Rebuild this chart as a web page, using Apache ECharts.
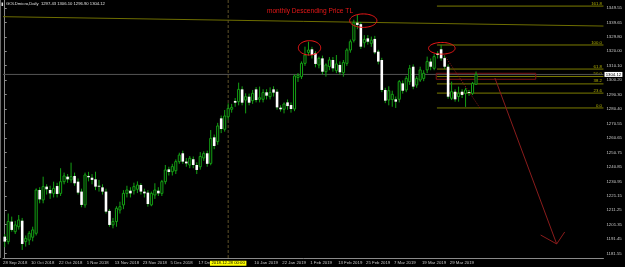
<!DOCTYPE html>
<html><head><meta charset="utf-8">
<script src="https://cdn.jsdelivr.net/npm/echarts@6/dist/echarts.min.js"></script>
<style>html,body{margin:0;padding:0;background:#000}#c{width:625px;height:267px}</style>
</head><body><div id="c"></div>
<script>
// ---- data ----
const dates = [
'2018-09-28',
'2018-10-01','2018-10-02','2018-10-03','2018-10-04','2018-10-05','2018-10-08','2018-10-09','2018-10-10','2018-10-11','2018-10-12','2018-10-15','2018-10-16','2018-10-17','2018-10-18','2018-10-19','2018-10-22','2018-10-23','2018-10-24','2018-10-25','2018-10-26','2018-10-29','2018-10-30','2018-10-31',
'2018-11-01','2018-11-02','2018-11-05','2018-11-06','2018-11-07','2018-11-08','2018-11-09','2018-11-12','2018-11-13','2018-11-14','2018-11-15','2018-11-16','2018-11-19','2018-11-20','2018-11-21','2018-11-22','2018-11-23','2018-11-26','2018-11-27','2018-11-28','2018-11-29','2018-11-30',
'2018-12-03','2018-12-04','2018-12-05','2018-12-06','2018-12-07','2018-12-10','2018-12-11','2018-12-12','2018-12-13','2018-12-14','2018-12-17','2018-12-18','2018-12-19','2018-12-20','2018-12-21','2018-12-24','2018-12-26','2018-12-27','2018-12-28','2018-12-31',
'2019-01-02','2019-01-03','2019-01-04','2019-01-07','2019-01-08','2019-01-09','2019-01-10','2019-01-11','2019-01-14','2019-01-15','2019-01-16','2019-01-17','2019-01-18','2019-01-21','2019-01-22','2019-01-23','2019-01-24','2019-01-25','2019-01-28','2019-01-29','2019-01-30','2019-01-31',
'2019-02-01','2019-02-04','2019-02-05','2019-02-06','2019-02-07','2019-02-08','2019-02-11','2019-02-12','2019-02-13','2019-02-14','2019-02-15','2019-02-18','2019-02-19','2019-02-20','2019-02-21','2019-02-22','2019-02-25','2019-02-26','2019-02-27','2019-02-28',
'2019-03-01','2019-03-04','2019-03-05','2019-03-06','2019-03-07','2019-03-08','2019-03-11','2019-03-12','2019-03-13','2019-03-14','2019-03-15','2019-03-18','2019-03-19','2019-03-20','2019-03-21','2019-03-22','2019-03-25','2019-03-26','2019-03-27','2019-03-28','2019-03-29',
'2019-04-01','2019-04-02','2019-04-03','2019-04-04','2019-04-05','2019-04-08','2019-04-09'
];
const open = [
1193.2,1189.8,1203.5,1196.6,1200.0,1204.1,1189.8,1190.9,1192.8,1195.5,
1225.1,1218.3,1227.4,1225.1,1222.8,1227.8,1222.8,1230.8,1234.2,1232.0,
1234.7,1230.8,1224.0,1214.9,1234.7,1233.5,1232.4,1228.0,1226.9,1224.0,
1210.8,1201.2,1203.5,1211.4,1214.9,1222.8,1224.6,1224.6,1225.6,1228.5,
1224.0,1223.3,1214.9,1221.7,1224.6,1222.8,1230.8,1239.2,1237.6,1238.3,
1244.5,1250.2,1244.5,1242.2,1246.1,1242.2,1241.0,1247.0,1250.2,1243.3,
1261.1,1258.2,1274.1,1266.6,1275.2,1280.3,1286.0,1285.5,1293.9,1286.6,
1288.9,1286.2,1293.9,1287.1,1287.1,1291.9,1288.9,1293.9,1292.3,1281.4,
1280.3,1285.0,1283.2,1280.5,1302.0,1302.6,1311.7,1319.2,1321.3,1318.6,
1310.6,1315.1,1306.0,1309.5,1314.0,1306.7,1310.6,1305.3,1311.7,1320.8,
1327.5,1339.5,1338.5,1325.8,1328.8,1325.4,1328.4,1319.7,1314.0,1293.5,
1286.6,1287.0,1287.1,1287.1,1298.0,1293.5,1299.2,1309.4,1296.9,1300.3,
1301.4,1307.2,1312.9,1308.3,1318.5,1321.3,1315.3,1309.4,1287.8,1292.3,
1289.0,1292.3,1291.2,1292.1,1291.2,1297.43];
const high = [
1195.0,1209.0,1206.9,1204.0,1208.0,1206.0,1194.0,1197.0,1200.0,1226.2,
1227.0,1234.2,1229.0,1228.0,1230.8,1230.0,1240.0,1237.0,1236.0,1243.8,
1237.0,1233.0,1226.0,1237.0,1237.5,1236.0,1237.6,1232.0,1229.0,1226.0,
1212.0,1206.0,1214.0,1217.1,1225.0,1228.0,1227.0,1230.1,1231.0,1229.7,
1226.0,1225.0,1224.0,1229.7,1227.0,1232.0,1242.2,1241.0,1243.0,1246.0,
1250.6,1252.0,1247.0,1248.3,1248.0,1244.0,1251.0,1251.5,1252.0,1266.1,
1263.0,1271.0,1276.0,1279.8,1284.4,1284.0,1288.0,1298.5,1296.0,1291.2,
1291.0,1293.5,1295.5,1295.8,1294.0,1294.0,1295.3,1296.0,1294.0,1283.0,
1285.0,1287.0,1285.0,1304.0,1305.0,1313.0,1323.1,1326.5,1323.0,1320.0,
1316.3,1317.0,1311.7,1316.0,1316.0,1317.4,1313.0,1314.0,1322.0,1328.0,
1341.5,1344.8,1340.0,1331.0,1331.0,1330.0,1330.5,1321.0,1315.5,1295.0,
1296.0,1293.0,1289.0,1300.3,1300.0,1303.0,1310.6,1311.0,1303.0,1309.4,
1307.0,1316.3,1315.0,1318.0,1320.0,1324.3,1317.0,1311.0,1299.2,1294.0,
1295.8,1294.0,1295.0,1293.5,1299.0,1306.10];
const low = [
1186.0,1188.0,1196.6,1195.0,1198.0,1184.1,1186.4,1187.5,1190.0,1194.0,
1216.0,1216.0,1222.0,1219.0,1220.0,1220.0,1221.0,1229.0,1230.0,1230.0,
1228.0,1222.0,1213.3,1213.0,1231.0,1229.0,1225.0,1224.0,1222.0,1209.0,
1200.0,1198.9,1200.0,1209.0,1212.0,1220.0,1220.0,1222.0,1223.0,1222.0,
1220.0,1213.7,1214.0,1219.0,1221.0,1221.0,1229.0,1235.0,1235.0,1236.0,
1243.0,1243.0,1241.0,1240.0,1240.0,1236.0,1239.0,1245.0,1241.0,1242.0,
1253.0,1256.0,1264.0,1265.0,1273.0,1278.0,1282.0,1283.0,1283.0,1277.5,
1283.0,1284.0,1285.0,1285.0,1285.0,1287.0,1287.0,1289.0,1280.0,1278.7,
1277.5,1280.0,1278.0,1279.0,1299.0,1301.0,1310.0,1317.0,1315.0,1309.0,
1308.3,1304.0,1302.6,1307.0,1306.0,1305.0,1304.0,1302.6,1310.0,1319.0,
1326.0,1335.0,1321.5,1322.5,1324.5,1323.0,1318.0,1311.0,1292.0,1284.5,
1283.0,1282.0,1281.2,1285.0,1291.0,1292.0,1297.0,1294.0,1295.0,1299.0,
1299.5,1305.0,1307.0,1307.0,1315.0,1313.5,1308.0,1287.5,1286.6,1285.5,
1285.5,1288.0,1281.9,1289.5,1290.0,1296.90];
const close = [
1189.8,1203.5,1197.8,1201.2,1204.6,1188.2,1192.0,1195.5,1197.8,1225.1,
1218.7,1227.4,1225.6,1222.8,1226.2,1222.4,1230.8,1234.7,1232.4,1234.2,
1229.7,1223.3,1214.9,1235.4,1233.8,1232.0,1227.4,1227.4,1224.0,1210.3,
1201.2,1203.5,1212.6,1213.7,1222.8,1225.1,1222.8,1227.4,1228.5,1224.0,
1222.8,1215.5,1222.8,1225.1,1222.8,1230.8,1238.8,1237.4,1241.1,1244.5,
1249.0,1244.5,1243.3,1246.8,1242.2,1238.8,1248.0,1250.0,1243.0,1260.4,
1255.2,1268.9,1266.8,1275.7,1280.9,1281.6,1284.8,1293.9,1284.8,1288.9,
1284.8,1291.2,1286.6,1288.2,1291.7,1289.6,1291.7,1291.7,1281.6,1280.3,
1283.9,1282.5,1280.5,1303.1,1303.5,1311.7,1317.4,1320.8,1317.4,1311.3,
1315.1,1306.0,1310.6,1314.0,1308.3,1311.3,1305.6,1312.2,1320.8,1326.5,
1339.5,1337.9,1323.1,1328.1,1326.5,1327.6,1319.2,1312.9,1293.5,1286.2,
1293.0,1290.5,1285.5,1299.2,1293.0,1301.4,1308.3,1295.8,1301.4,1307.2,
1304.9,1312.9,1309.4,1316.3,1317.4,1315.1,1309.4,1288.9,1292.3,1287.1,
1291.2,1290.1,1293.5,1291.7,1298.0,1304.12];
const priceTicks = [1181.55,1191.45,1201.35,1211.25,1221.15,1230.95,1240.85,1250.75,1260.65,1270.55,1280.40,1290.30,1300.20,1310.10,1320.00,1329.80,1339.65,1349.55];
const dateTickIdx = [0,8,16,24,32,40,48,56,72,80,88,96,104,112,120,128];
const crosshairIdx = 64;
// annotations (bar index, price)
const trendLine = [[-0.5,1343.6],[171.5,1337.2]];
const fibLow = 1281.2, fibHigh = 1324.25, fibStartIdx = 123.8;
const fibLevels = [0,23.6,38.2,50.0,61.8,100.0,161.8];
const zoneBox = [123.6,1304.9,152.1,1300.8];
const dotLine = [[125.9,1317.4],[136.1,1281.2]];
const arrowLine = [[140.4,1301.7],[158.1,1188.2]];
const arrowWings = [[153.5,1194.3],[160.4,1196.4]];
const ellipses = [[87.3,1322.3,3.2,4.9],[102.7,1340.9,3.9,4.6],[125.2,1322.0,3.8,4.0]];
const noteText = ['monthly Descending Price TL', 75.1, 1347.2];
const symbolName = 'GOLDmicro,Daily';

// ---- chart ----
const FONT = 'Liberation Sans';
const GREEN = '#14a014';
const SMALL = 4.3;
const MON = ['Jan','Feb','Mar','Apr','May','Jun','Jul','Aug','Sep','Oct','Nov','Dec'];
function fmtDate(s){const p=s.split('-');return (+p[2])+' '+MON[+p[1]-1]+' '+p[0];}
const n = dates.length;
const candleData = dates.map((d,i)=>[i,open[i],close[i],low[i],high[i]]);
const last = n-1;
const lastPrice = close[last];
const LOFF = 0.5;

const chart = echarts.init(document.getElementById('c'));
function lineEl(a,b,stroke,w,dash){return {type:'line',shape:{x1:a[0],y1:a[1],x2:b[0],y2:b[1]},style:{stroke:stroke,lineWidth:w||1,lineDash:dash||null}};}

chart.setOption({
  backgroundColor:'#000',
  animation:false,
  grid:{left:1.25,right:21,top:0,bottom:9},
  xAxis:{type:'value',min:-0.5,max:171.5,
    axisLine:{show:true,lineStyle:{color:'#8a8a8a',width:1}},
    axisTick:{show:false},splitLine:{show:false},
    axisLabel:{customValues:dateTickIdx.map(i=>i-LOFF),formatter:v=>{const d=dates[Math.round(v+LOFF)];return d?fmtDate(d):'';},
      align:'left',color:'#c8c8c8',fontSize:SMALL,fontFamily:FONT,margin:2.4,hideOverlap:false}},
  yAxis:{type:'value',position:'right',min:1178.6,max:1355.02,scale:true,
    axisLine:{show:true,lineStyle:{color:'#8a8a8a',width:1}},
    axisTick:{show:true,length:2,customValues:priceTicks,lineStyle:{color:'#8a8a8a'}},
    splitLine:{show:false},
    axisLabel:{customValues:priceTicks,formatter:v=>v.toFixed(2),color:'#c8c8c8',fontSize:SMALL,fontFamily:FONT,margin:3,hideOverlap:false}},
  graphic:[
    {type:'rect',shape:{x:1.5,y:2.5,width:1.6,height:3.5},style:{fill:'#e0e0e0'}},
    {type:'line',shape:{x1:0.5,y1:0,x2:0.5,y2:258},style:{stroke:'#6a6a6a',lineWidth:1}},
    {type:'text',x:6,y:1.8,style:{text:symbolName+'  '+[open[last],high[last],low[last],close[last]].map(v=>v.toFixed(2)).join(' '),fill:'#e0e0e0',fontSize:4.2,fontFamily:FONT,verticalAlign:'top'}}
  ],
  series:[
    {type:'custom',name:'trend',silent:true,z:1,data:[0],renderItem:(p,api)=>lineEl(api.coord(trendLine[0]),api.coord(trendLine[1]),'#6e6e00',1)},
    {type:'custom',name:'fib',silent:true,z:1,data:fibLevels.map(l=>[l,fibLow+(fibHigh-fibLow)*l/100]),
      renderItem:(p,api)=>{const lv=api.value(0),pr=api.value(1);const a=api.coord([fibStartIdx,pr]),b=api.coord([171.5,pr]);
        return {type:'group',children:[lineEl(a,b,'#7c7c00',1),
          {type:'text',x:b[0]-1.5,y:a[1]-0.6,style:{text:lv.toFixed(1),fill:'#b4b400',fontSize:SMALL,fontFamily:FONT,align:'right',verticalAlign:'bottom'}}]};}},
    {type:'custom',name:'priceLine',silent:true,z:2,clip:false,data:[lastPrice],
      renderItem:(p,api)=>{const a=api.coord([-0.5,api.value(0)]),b=api.coord([171.5,api.value(0)]);
        return {type:'group',children:[lineEl(a,b,'#555555',1),
          {type:'text',x:b[0]+1,y:b[1],style:{text:api.value(0).toFixed(2),fill:'#000',backgroundColor:'#ffffff',padding:[0.6,1.2,0.4,1.2],fontSize:SMALL,fontFamily:FONT,align:'left',verticalAlign:'middle'}}]};}},
    {type:'custom',name:'crosshair',silent:true,z:2,clip:false,data:[crosshairIdx],
      renderItem:(p,api)=>{const i=api.value(0);const a=api.coord([i,1355.02]),b=api.coord([i,1178.6]);
        return {type:'group',children:[lineEl(a,b,'#5e5228',1,[3,2]),
          {type:'text',x:a[0],y:b[1]+5.3,style:{text:dates[i].replace(/-/g,'.')+' 00:00',fill:'#000',backgroundColor:'#ffff00',padding:[0.6,1.5,0.4,1.5],fontSize:SMALL,fontFamily:FONT,align:'center',verticalAlign:'middle'}}]};}},
    {type:'custom',name:'zone',silent:true,z:2,data:[0],
      renderItem:(p,api)=>{const a=api.coord([zoneBox[0],zoneBox[1]]),b=api.coord([zoneBox[2],zoneBox[3]]);
        return {type:'rect',shape:{x:a[0],y:a[1],width:b[0]-a[0],height:b[1]-a[1]},style:{fill:null,stroke:'#7a1414',lineWidth:1}};}},
    {type:'custom',name:'dotted',silent:true,z:2,data:[0],
      renderItem:(p,api)=>lineEl(api.coord(dotLine[0]),api.coord(dotLine[1]),'#9a1a1a',1,[1,1.5])},
    {type:'custom',name:'arrow',silent:true,z:2,data:[0],
      renderItem:(p,api)=>{const s=api.coord(arrowLine[0]),t=api.coord(arrowLine[1]);
        return {type:'group',children:[lineEl(s,t,'#8a1c1c',1),lineEl(t,api.coord(arrowWings[0]),'#8a1c1c',1),lineEl(t,api.coord(arrowWings[1]),'#8a1c1c',1)]};}},
    {type:'custom',name:'candles',silent:true,z:5,data:candleData,
      renderItem:(p,api)=>{const i=api.value(0),o=api.value(1),c=api.value(2),lo=api.value(3),hi=api.value(4);
        const t=api.coord([i,Math.max(o,c)]),b=api.coord([i,Math.min(o,c)]),h=api.coord([i,hi]),l=api.coord([i,lo]);
        const bw=api.size([1,0])[0];const x=t[0];const up=c>=o;
        const ch=[lineEl([x,h[1]],[x,l[1]],GREEN,1)];
        const hh=Math.max(b[1]-t[1],0.9);
        if(up) ch.push({type:'rect',shape:{x:x-bw*0.3,y:t[1],width:bw*0.6,height:hh},style:{fill:'#000',stroke:GREEN,lineWidth:1}});
        else ch.push({type:'rect',shape:{x:x-bw*0.37,y:t[1],width:bw*0.74,height:hh},style:{fill:'#ffffff',stroke:null}});
        return {type:'group',children:ch};}},
    {type:'custom',name:'ellipses',silent:true,z:6,data:ellipses,
      renderItem:(p,api)=>{const cx=api.value(0),cy=api.value(1),rx=api.value(2),ry=api.value(3);
        const ctr=api.coord([cx,cy]);const e=api.coord([cx+rx,cy+ry]);const RX=e[0]-ctr[0],RY=ctr[1]-e[1];
        const pts=[];for(let k=0;k<=60;k++){const a=k/60*Math.PI*2;pts.push([ctr[0]+RX*Math.cos(a),ctr[1]+RY*Math.sin(a)]);}
        return {type:'polyline',shape:{points:pts},style:{stroke:'#f01818',lineWidth:1,fill:null}};}},
    {type:'custom',name:'note',silent:true,z:6,data:[0],
      renderItem:(p,api)=>{const a=api.coord([noteText[1],noteText[2]]);
        return {type:'text',x:a[0],y:a[1],style:{text:noteText[0],fill:'#e81818',fontSize:6.6,fontFamily:FONT,align:'left',verticalAlign:'middle'}};}}
  ]
});
</script></body></html>
